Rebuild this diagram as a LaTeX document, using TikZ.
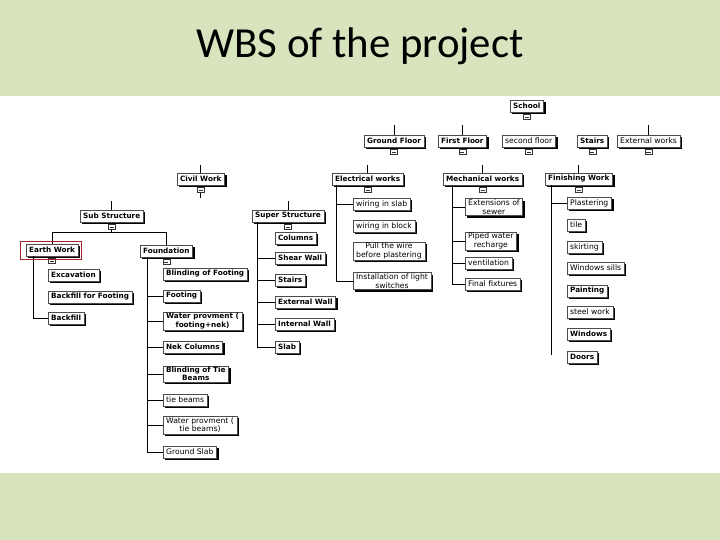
\documentclass[tikz,border=0pt]{standalone}
\usepackage{fontspec}
\usepackage{xcolor}
\newfontfamily\titlefont{Carlito}
\newfontfamily\boxfont{DejaVu Sans}
\definecolor{slidegreen}{RGB}{215,228,189}
\definecolor{selred}{RGB}{165,35,45}
\usetikzlibrary{positioning,shadows}
\tikzset{
  box/.style={draw=black!70,line width=0.3pt,fill=white,anchor=west,align=center,inner xsep=3bp,inner ysep=1.2bp,minimum height=12bp,font=\boxfont\bfseries\fontsize{7.3}{8.2}\selectfont,drop shadow={shadow xshift=2.2bp,shadow yshift=-2.2bp,fill=black,opacity=1}},
  boxl/.style={box,font=\boxfont\fontsize{7.7}{8.4}\selectfont},
  tog/.style={draw=black!80,line width=0.3pt,fill=white,minimum width=7bp,minimum height=5.5bp,inner sep=0pt,
    path picture={\draw[line width=0.4pt] ([xshift=1.4bp]path picture bounding box.west) -- ([xshift=-1.4bp]path picture bounding box.east);}},
  link/.style={draw=black,line width=0.6pt},
}

\begin{document}
\begin{tikzpicture}[x=1bp,y=-1bp]
  \useasboundingbox (0,0) rectangle (720,540);
  \fill[slidegreen] (0,0) rectangle (720,96);
  \fill[white] (0,96) rectangle (720,473);
  \fill[slidegreen] (0,473) rectangle (720,540);
  \node[font=\titlefont\fontsize{43}{50}\selectfont] (title) at (360,46) {WBS of the project};

  % top levels
  \node[box] (school) at (510,106) {School};
  \node[box] (gf) at (364,141) {Ground Floor};
  \node[box] (ff) at (438,141) {First Floor};
  \node[boxl] (sf) at (502,141) {second floor};
  \node[box] (st) at (577,141) {Stairs};
  \node[boxl] (ext) at (617,141) {External works};
  \node[box] (civil) at (177,179) {Civil Work};
  \node[box] (elec) at (332,179) {Electrical works};
  \node[box] (mech) at (443,179) {Mechanical works};
  \node[box] (fin) at (545,179) {Finishing Work};
  \node[box] (sub) at (80,216) {Sub Structure};
  \node[box] (sup) at (252,216) {Super Structure};
  \node[box] (earth) at (26,250) {Earth Work};
  \node[box] (found) at (140,251) {Foundation};

  % earth work
  \node[box] (exc) at (48,275) {Excavation};
  \node[box] (bff) at (48,297) {Backfill for Footing};
  \node[box] (bf) at (48,318) {Backfill};

  % foundation
  \node[box] (blind) at (163,274) {Blinding of Footing};
  \node[box] (footing) at (163,296) {Footing};
  \node[box] (wpf) at (163,321) {Water provment (\\footing+nek)};
  \node[box] (nek) at (163,347) {Nek Columns};
  \node[box] (btb) at (163,374) {Blinding of Tie\\Beams};
  \node[boxl] (tieb) at (163,400) {tie beams};
  \node[boxl] (wptb) at (163,425) {Water provment (\\tie beams)};
  \node[boxl] (gslab) at (163,452) {Ground Slab};

  % super structure
  \node[box] (cols) at (275,238) {Columns};
  \node[box] (shear) at (275,258) {Shear Wall};
  \node[box] (stairs) at (275,280) {Stairs};
  \node[box] (extw) at (275,302) {External Wall};
  \node[box] (intw) at (275,324) {Internal Wall};
  \node[box] (slab) at (275,347) {Slab};

  % electrical
  \node[boxl] (wslab) at (353,204) {wiring in slab};
  \node[boxl] (wblock) at (353,226) {wiring in block};
  \node[boxl] (pull) at (353,251) {Pull the wire\\before plastering};
  \node[boxl] (install) at (353,281) {Installation of light\\switches};

  % mechanical
  \node[boxl] (sewer) at (465,207) {Extensions of\\sewer};
  \node[boxl] (piped) at (465,241) {Piped water\\recharge};
  \node[boxl] (vent) at (465,263) {ventilation};
  \node[boxl] (fixt) at (465,284) {Final fixtures};

  % finishing
  \node[boxl] (plaster) at (567,203) {Plastering};
  \node[boxl] (tile) at (567,225) {tile};
  \node[boxl] (skirt) at (567,247) {skirting};
  \node[boxl] (sills) at (567,268) {Windows sills};
  \node[box] (paint) at (567,291) {Painting};
  \node[boxl] (steel) at (567,312) {steel work};
  \node[box] (wins) at (567,334) {Windows};
  \node[box] (doors) at (567,357) {Doors};

  \foreach \n in {school,gf,ff,sf,st,ext,civil,elec,mech,fin,sub,sup,earth,found}
    \node[tog,below=1.8bp of \n] (\n-t) {};

  % connectors
  \foreach \n in {gf,ff,ext} \draw[link] (\n.north) -- ++(0,-10);
  \foreach \n in {civil,elec,mech,fin} \draw[link] (\n.north) -- ++(0,-8);
  \foreach \n in {sub,sup} \draw[link] (\n.north) -- ++(0,-9);
  \draw[link] (civil-t.south) -- ++(0,5);
  \draw[link] (sub-t.south) -- ++(0,3) coordinate (subbus);
  \draw[link] (earth.north) |- (subbus) -| (found.north);
  \foreach \c in {bf} \draw[link] ([xshift=7bp]earth.south west) |- (\c.west);
  \foreach \c in {footing,wpf,nek,btb,tieb,wptb,gslab} \draw[link] ([xshift=7bp]found.south west) |- (\c.west);
  \foreach \c in {shear,stairs,extw,intw,slab} \draw[link] ([xshift=5bp]sup.south west) |- (\c.west);
  \foreach \c in {wslab,install} \draw[link] ([xshift=4bp]elec.south west) |- (\c.west);
  \foreach \c in {sewer,piped,vent,fixt} \draw[link] ([xshift=9bp]mech.south west) |- (\c.west);
  \draw[link] ([xshift=6bp]fin.south west) |- (plaster.west);
  \draw[link] ([xshift=6bp]fin.south west) -- ++(0,170);

  % selected node
  \draw[selred,line width=0.5pt] ([shift={(-6,-3)}]earth.north west) rectangle ([shift={(3,3)}]earth.south east);
\end{tikzpicture}
\end{document}
